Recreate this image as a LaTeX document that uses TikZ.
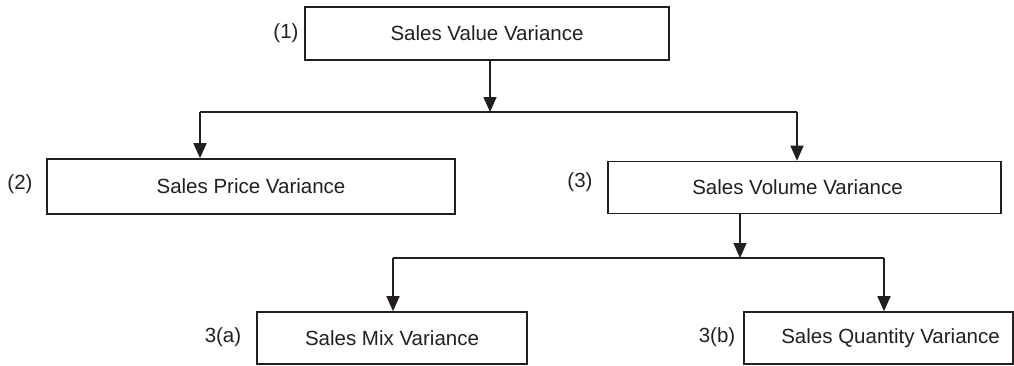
\documentclass[tikz,border=0pt]{standalone}
\usepackage{fontspec}
\setmainfont{Liberation Sans}
\usetikzlibrary{arrows.meta}
\definecolor{ink}{HTML}{231F20}
\begin{document}
\begin{tikzpicture}[x=1pt,y=-1pt,
  every node/.style={font=\fontsize{20.5}{24}\selectfont, text=ink},
  box/.style={draw=ink, line width=1.6pt, inner sep=0pt, fill=white},
  tag/.style={inner sep=0pt},
  link/.style={draw=ink, line width=1.6pt},
  arrow/.style={link, -{Triangle[width=13pt,length=15pt]}}]
\useasboundingbox (0,0) rectangle (1014,365);

% boxes
\node[box, minimum width=364pt, minimum height=53pt] (b1) at (487,33.5) {Sales Value Variance};
\node[box, minimum width=408pt, minimum height=55pt] (b2) at (251,186.5) {Sales Price Variance};
\node[box, minimum width=393pt, minimum height=52pt] (b3) at (804.5,187.5) {Sales Volume Variance\hspace*{14pt}};
\node[box, minimum width=270pt, minimum height=52pt] (b3a) at (392,338) {Sales Mix Variance};
\node[box, minimum width=269pt, minimum height=52pt] (b3b) at (878.5,338) {\hspace*{24pt}Sales Quantity Variance};

% numbering
\node[tag] (t1) at (286,33) {(1)};
\node[tag] (t2) at (20,184) {(2)};
\node[tag] (t3) at (580,182) {(3)};
\node[tag] (t3a) at (223,337) {3(a)};
\node[tag] (t3b) at (717,337) {3(b)};

% first split
\coordinate (j1) at (490,112);
\coordinate (l1) at (200,112);
\coordinate (r1) at (797,112);
\draw[arrow] (b1.south -| j1) -- (j1);
\draw[link] (l1) -- (r1);
\draw[arrow] (l1) -- (l1 |- b2.north);
\draw[arrow] (r1) -- (r1 |- b3.north);

% second split
\coordinate (j2) at (740,258);
\coordinate (l2) at (393,258);
\coordinate (r2) at (884,258);
\draw[arrow] (b3.south -| j2) -- (j2);
\draw[link] (l2) -- (r2);
\draw[arrow] (l2) -- (l2 |- b3a.north);
\draw[arrow] (r2) -- (r2 |- b3b.north);
\end{tikzpicture}
\end{document}
